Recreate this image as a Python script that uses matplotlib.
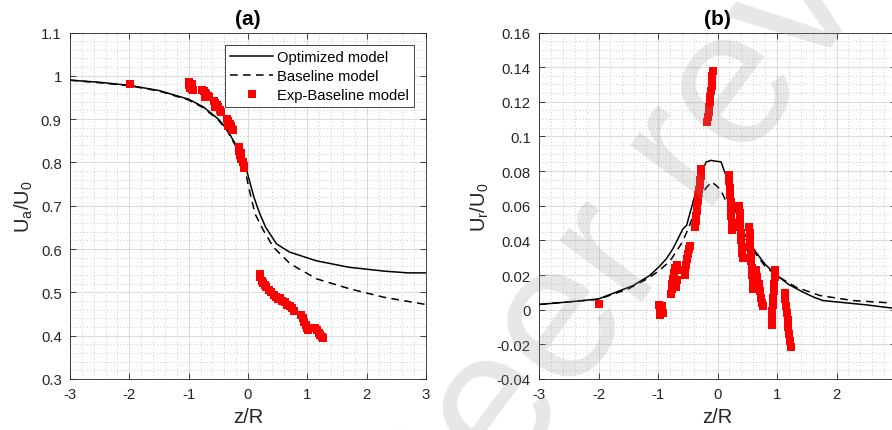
import matplotlib
matplotlib.use("Agg")
import matplotlib.pyplot as plt
from matplotlib.ticker import MultipleLocator

plt.rcParams['font.family'] = ['Liberation Sans', 'DejaVu Sans']

# ---- panel (a): axial velocity U_a/U_0 ----
za_opt = [-3.0, -2.5, -2.0, -1.5, -1.0, -0.75, -0.5, -0.35, -0.25, -0.15, -0.1, -0.05,
          0.0, 0.05, 0.1, 0.15, 0.2, 0.3, 0.48, 0.7, 1.15, 1.7, 2.3, 2.7, 3.0]
ua_opt = [0.990, 0.985, 0.978, 0.966, 0.946, 0.928, 0.900, 0.876, 0.851, 0.83, 0.815, 0.795,
          0.770, 0.745, 0.720, 0.700, 0.681, 0.650, 0.612, 0.593, 0.573, 0.558, 0.549, 0.545, 0.545]

za_base = [-3.0, -2.5, -2.0, -1.5, -1.0, -0.75, -0.5, -0.35, -0.25, -0.15, -0.1, -0.05,
           0.0, 0.05, 0.12, 0.26, 0.43, 0.71, 1.16, 1.72, 2.28, 2.7, 3.0]
ua_base = [0.990, 0.984, 0.977, 0.965, 0.944, 0.926, 0.898, 0.873, 0.848, 0.825, 0.81, 0.785,
           0.750, 0.720, 0.681, 0.643, 0.604, 0.566, 0.531, 0.508, 0.489, 0.479, 0.472]

# measured points (clusters of samples)
za_exp = [-1.99,
          -1.0, -0.99, -0.98, -0.96, -0.94, -0.93, -0.95,
          -0.77, -0.75, -0.73, -0.70, -0.68, -0.66, -0.72,
          -0.58, -0.56, -0.53, -0.50, -0.48, -0.45, -0.55,
          -0.36, -0.34, -0.31, -0.29, -0.27, -0.25, -0.33,
          -0.16, -0.15, -0.13, -0.11, -0.09, -0.07, -0.06, -0.12,
          0.20, 0.21, 0.23, 0.26, 0.28, 0.31,
          0.35, 0.39, 0.43, 0.47, 0.51,
          0.54, 0.58, 0.62, 0.66, 0.70, 0.74, 0.78,
          0.90, 0.92, 0.95, 0.97, 0.99, 1.01,
          1.13, 1.16, 1.19, 1.22, 1.25, 1.27]
ua_exp = [0.980,
          0.985, 0.978, 0.972, 0.975, 0.970, 0.968, 0.982,
          0.968, 0.965, 0.960, 0.957, 0.953, 0.950, 0.951,
          0.943, 0.938, 0.932, 0.927, 0.922, 0.917, 0.928,
          0.900, 0.895, 0.889, 0.884, 0.878, 0.874, 0.883,
          0.835, 0.826, 0.818, 0.808, 0.800, 0.792, 0.787, 0.822,
          0.542, 0.535, 0.527, 0.521, 0.516, 0.513,
          0.505, 0.500, 0.495, 0.490, 0.485,
          0.486, 0.481, 0.477, 0.472, 0.468, 0.463, 0.458,
          0.447, 0.440, 0.432, 0.425, 0.418, 0.412,
          0.418, 0.412, 0.407, 0.402, 0.398, 0.395]

# ---- panel (b): radial velocity U_r/U_0 ----
zr_opt = [-3.0, -2.5, -2.0, -1.42, -1.14, -0.97, -0.86, -0.75, -0.58, -0.52, -0.38, -0.35,
          -0.27, -0.24, -0.19, -0.16, -0.11, -0.05, 0.0, 0.06, 0.12, 0.18, 0.25, 0.35,
          0.45, 0.55, 0.65, 0.8, 0.99, 1.2, 1.44, 1.62, 1.77, 2.0, 2.5, 2.92, 3.0]
ur_opt = [0.0030, 0.0045, 0.0062, 0.0139, 0.0197, 0.0252, 0.0294, 0.0351, 0.0467, 0.0486,
          0.0660, 0.0679, 0.0795, 0.0814, 0.0853, 0.0856, 0.0862, 0.0858, 0.0856, 0.0853,
          0.0795, 0.0750, 0.0630, 0.0520, 0.0440, 0.0380, 0.0330, 0.0262, 0.0200, 0.0145,
          0.0101, 0.0072, 0.0053, 0.0045, 0.0028, 0.0010, 0.0008]

zr_base = [-3.0, -2.5, -2.0, -1.5, -1.2, -1.0, -0.8, -0.6, -0.5, -0.4, -0.3, -0.2, -0.1,
           -0.02, 0.06, 0.15, 0.25, 0.35, 0.45, 0.55, 0.65, 0.8, 1.0, 1.32, 1.72, 2.27, 3.0]
ur_base = [0.0030, 0.0045, 0.0060, 0.0120, 0.0175, 0.0220, 0.0280, 0.0385, 0.0460, 0.0550,
           0.0630, 0.0700, 0.0737, 0.0717, 0.0688, 0.0620, 0.0550, 0.0480, 0.0420, 0.0370,
           0.0320, 0.0250, 0.0195, 0.0130, 0.0082, 0.0053, 0.0037]

zr_exp = [-2.0,
          -0.98, -0.97, -0.96, -0.94, -0.93, -0.92,
          -0.78, -0.77, -0.76, -0.75, -0.73, -0.71, -0.68, -0.66, -0.68, -0.70,
          -0.55, -0.54, -0.53, -0.51, -0.50, -0.48, -0.47,
          -0.37, -0.36, -0.355, -0.35, -0.34, -0.33, -0.32, -0.31, -0.30, -0.29, -0.285, -0.28, -0.27,
          -0.17, -0.16, -0.15, -0.14, -0.13, -0.12, -0.11, -0.10, -0.09, -0.085, -0.08,
          0.20, 0.20, 0.21, 0.21, 0.22, 0.23, 0.235, 0.24, 0.245,
          0.36, 0.37, 0.38, 0.385, 0.39, 0.40, 0.41, 0.42, 0.43,
          0.53, 0.54, 0.545, 0.55, 0.56, 0.57, 0.575, 0.58, 0.59, 0.60,
          0.65, 0.67, 0.69, 0.71, 0.73, 0.75, 0.77,
          0.97, 0.96, 0.955, 0.95, 0.94, 0.93, 0.92, 0.915, 0.91,
          1.13, 1.14, 1.15, 1.165, 1.18, 1.19, 1.20, 1.215, 1.23]
ur_exp = [0.0035,
          0.003, 0.000, -0.003, 0.002, -0.001, -0.002,
          0.009, 0.012, 0.015, 0.018, 0.021, 0.024, 0.026, 0.023, 0.017, 0.013,
          0.020, 0.023, 0.026, 0.029, 0.032, 0.035, 0.037,
          0.048, 0.051, 0.054, 0.057, 0.060, 0.063, 0.066, 0.069, 0.072, 0.075, 0.077, 0.079, 0.0815,
          0.1085, 0.111, 0.114, 0.117, 0.120, 0.123, 0.126, 0.129, 0.132, 0.135, 0.138,
          0.0775, 0.074, 0.070, 0.066, 0.062, 0.058, 0.054, 0.050, 0.046,
          0.060, 0.056, 0.052, 0.048, 0.044, 0.040, 0.036, 0.033, 0.030,
          0.048, 0.044, 0.040, 0.036, 0.032, 0.028, 0.024, 0.020, 0.016, 0.012,
          0.023, 0.019, 0.015, 0.011, 0.007, 0.004, 0.002,
          0.023, 0.019, 0.015, 0.011, 0.007, 0.003, -0.001, -0.005, -0.009,
          0.0095, 0.006, 0.002, -0.002, -0.006, -0.010, -0.014, -0.018, -0.0215]

xticks = [-3, -2, -1, 0, 1, 2, 3]
ya_ticks = [0.3, 0.4, 0.5, 0.6, 0.7, 0.8, 0.9, 1.0, 1.1]
yb_ticks = [-0.04, -0.02, 0.0, 0.02, 0.04, 0.06, 0.08, 0.1, 0.12, 0.14, 0.16]

DARK = '#262626'


def style_axes(ax, yticks, yminor):
    ax.set_xlim(-3, 3)
    ax.set_ylim(yticks[0], yticks[-1])
    ax.set_xticks(xticks)
    ax.set_xticklabels([f"{v:g}" for v in xticks])
    ax.set_yticks(yticks)
    ax.set_yticklabels([f"{v:g}" for v in yticks])
    ax.xaxis.set_minor_locator(MultipleLocator(0.2))
    ax.yaxis.set_minor_locator(MultipleLocator(yminor))
    ax.grid(True, which='major', color='#dcdcdc', linewidth=0.8, linestyle='-')
    ax.grid(True, which='minor', color='#b8b8b8', linewidth=0.6, linestyle=(0, (1, 3)))
    ax.set_axisbelow(True)
    ax.tick_params(which='major', direction='in', top=True, right=True, length=4,
                   width=0.6, color=DARK, labelcolor=DARK, labelsize=10.7, pad=6)
    ax.tick_params(which='minor', length=0)
    for sp in ax.spines.values():
        sp.set_color(DARK)
        sp.set_linewidth(0.6)


fig = plt.figure(figsize=(8.92, 4.31), dpi=100)
ax1 = fig.add_axes([70 / 892, 1 - 380 / 431, 356 / 892, 346.5 / 431])
ax2 = fig.add_axes([539 / 892, 1 - 380 / 431, 357 / 892, 346.5 / 431])

# (a)
ax1.plot(za_opt, ua_opt, '-', color='k', lw=1.1, label='Optimized model')
ax1.plot(za_base, ua_base, '--', color='k', lw=1.1, dashes=(5, 3.5), label='Baseline model')
ax1.plot(za_exp, ua_exp, 's', color='red', ms=6.3, mew=0, label='Exp-Baseline model')
style_axes(ax1, ya_ticks, 0.02)
ax1.set_title('(a)', fontsize=15, fontweight='bold', color='k', pad=6)
ax1.set_xlabel('z/R', fontsize=14.5, color=DARK)
ax1.set_ylabel(r'U$_\mathregular{a}$/U$_\mathregular{0}$', fontsize=14.5, color=DARK)
leg = ax1.legend(loc='upper right', bbox_to_anchor=(0.966, 0.965), fontsize=10.6,
                 fancybox=False, framealpha=1, edgecolor=DARK, handlelength=2.9,
                 borderpad=0.35, labelspacing=0.35, handletextpad=0.25, borderaxespad=0)
leg.get_frame().set_linewidth(0.6)

# (b)
ax2.plot(zr_opt, ur_opt, '-', color='k', lw=1.1)
ax2.plot(zr_base, ur_base, '--', color='k', lw=1.1, dashes=(5, 3.5))
ax2.plot(zr_exp, ur_exp, 's', color='red', ms=6.3, mew=0)
style_axes(ax2, yb_ticks, 0.005)
ax2.set_title('(b)', fontsize=15, fontweight='bold', color='k', pad=6)
ax2.set_xlabel('z/R', fontsize=14.5, color=DARK)
ax2.set_ylabel(r'U$_\mathregular{r}$/U$_\mathregular{0}$', fontsize=14.5, color=DARK)

# watermark
fig.text(694 / 892, 1 - 148 / 431, 'Peer review', fontsize=140,
         color='#909090', alpha=0.22, rotation=53.4, ha='center', va='center',
         rotation_mode='anchor', zorder=10)

fig.savefig('out.png', dpi=100)
